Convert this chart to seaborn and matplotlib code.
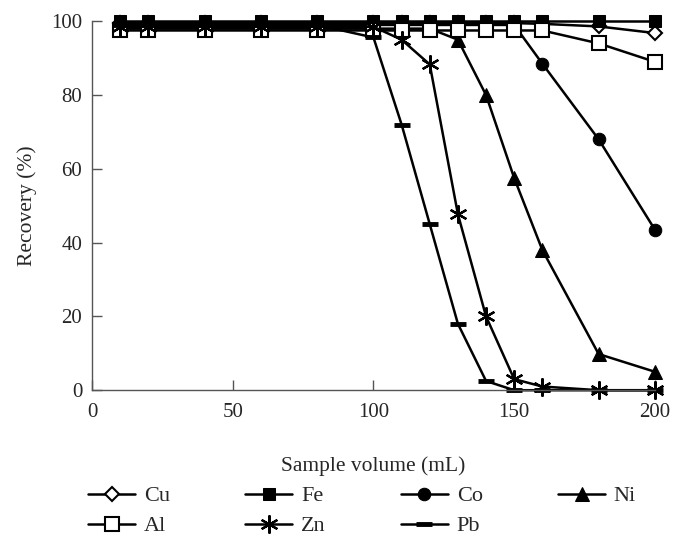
import pandas as pd
import matplotlib
matplotlib.use('Agg')
import matplotlib.pyplot as plt
import seaborn as sns

# Sample volumes (mL)
volume = [10, 20, 40, 60, 80, 100, 110, 120, 130, 140, 150, 160, 180, 200]

# Recovery (%) for each metal
cu = [99.5, 99.5, 99.5, 99.5, 99.5, 99.5, 99.5, 99.5, 99.5, 99.5, 99.5, 99.3, 98.6, 96.8]
fe = [100, 100, 100, 100, 100, 100, 100, 100, 100, 100, 100, 100, 100, 100]
co = [99, 99, 99, 99, 99, 99, 99, 99, 99, 99, 99, 88.5, 68, 43.5]
ni = [98, 98, 98, 98, 98, 98, 98, 98, 95, 80, 57.5, 38, 9.8, 5]
al = [97.5, 97.5, 97.5, 97.5, 97.5, 97.5, 97.5, 97.5, 97.5, 97.5, 97.5, 97.5, 94, 89]
zn = [98.5, 98.5, 98.5, 98.5, 98.5, 98.5, 95, 88.3, 47.7, 20, 3, 1, 0, 0]
pb = [99, 99, 99, 99, 99, 95.6, 72, 45, 18, 2.5, 0, 0, 0, 0]

series = {'Cu': cu, 'Fe': fe, 'Co': co, 'Ni': ni, 'Al': al, 'Zn': zn, 'Pb': pb}

styles = {
    'Cu': dict(marker='D', markersize=7, markerfacecolor='white', markeredgewidth=1.5),
    'Fe': dict(marker='s', markersize=9, markerfacecolor='black'),
    'Co': dict(marker='o', markersize=9, markerfacecolor='black'),
    'Ni': dict(marker='^', markersize=10, markerfacecolor='black'),
    'Al': dict(marker='s', markersize=10, markerfacecolor='white', markeredgewidth=1.5),
    'Zn': dict(marker=(6, 2, 0), markersize=13, markeredgewidth=1.6),
    'Pb': dict(marker='_', markersize=12, markeredgewidth=3.5),
}

sns.set_style('ticks')
plt.rcParams['font.family'] = ['Liberation Serif', 'DejaVu Serif']

fig = plt.figure(figsize=(6.84, 5.45), dpi=100)
ax = fig.add_axes([0.1345, 0.284, 0.823, 0.677])

handles = {}
for name, vals in series.items():
    df = pd.DataFrame({'volume': volume, 'recovery': vals})
    sns.lineplot(data=df, x='volume', y='recovery', ax=ax, color='black',
                 linewidth=1.8, markeredgecolor='black', clip_on=False,
                 **styles[name])
    handles[name] = ax.lines[-1]

ax.set_xlim(0, 200)
ax.set_ylim(0, 100)
ax.set_xticks([0, 50, 100, 150, 200])
ax.set_yticks([0, 20, 40, 60, 80, 100])
ax.tick_params(direction='in', length=7, width=1, color='#555555', labelsize=15)
ax.tick_params(axis='x', pad=9)
ax.tick_params(axis='y', pad=7)
for s in ['top', 'right']:
    ax.spines[s].set_visible(False)
for s in ['left', 'bottom']:
    ax.spines[s].set_color('#555555')
    ax.spines[s].set_linewidth(1)

ax.set_xlabel('Sample volume (mL)', fontsize=15.5, labelpad=25)
ax.set_ylabel('Recovery (%)', fontsize=15.5, labelpad=10)

order = ['Cu', 'Al', 'Fe', 'Zn', 'Co', 'Pb', 'Ni']
fig.legend([handles[k] for k in order], order, ncol=4, loc='lower left',
           bbox_to_anchor=(0.129, 0.016), frameon=False, fontsize=16,
           borderpad=0, borderaxespad=0,
           handlelength=2.1, columnspacing=3.4, handletextpad=0.4,
           labelspacing=0.42)

fig.savefig('out.png', dpi=100)
